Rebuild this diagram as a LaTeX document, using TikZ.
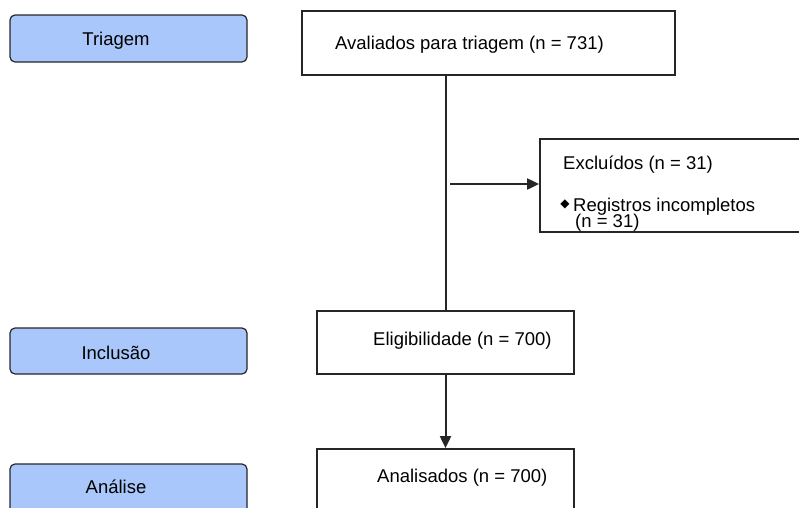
\documentclass[tikz,border=0pt]{standalone}
\usepackage{fontspec}
\setmainfont{Liberation Sans}
\newfontfamily\symfont{DejaVu Sans}
\usetikzlibrary{arrows.meta}
\definecolor{phaseblue}{RGB}{169,199,251}

\begin{document}
\begin{tikzpicture}[
    x=1pt, y=-1pt,
    >={Triangle[length=12pt,width=11pt]},
    phase/.style = {rectangle, rounded corners=5pt, draw=black!85,
                    fill=phaseblue, line width=1.2pt,
                    minimum width=237pt, inner sep=0pt},
    flow/.style  = {rectangle, draw=black!85, line width=1.8pt,
                    inner sep=0pt},
    txt/.style   = {font=\fontsize{18.5}{18.5}\selectfont, inner sep=0pt},
    line/.style  = {draw=black!85, line width=2pt},
  ]
  \useasboundingbox (0,0) rectangle (799,507);
  \clip (0,0) rectangle (799,507);
  % phase boxes on the left
  \node[phase, minimum height=47pt] (ptriag) at (128.5,38.5) {};
  \node[phase, minimum height=46pt] (pincl)  at (128.5,351)  {};
  \node[phase, minimum height=80pt] (panal)  at (128.5,504)  {};
  \node[txt, anchor=base] (ttriag) at (116,45)  {Triagem};
  \node[txt, anchor=base] (tincl)  at (116,359) {Inclusão};
  \node[txt, anchor=base] (tanal)  at (116,493) {Análise};
  % flow boxes
  \node[flow, minimum width=373pt, minimum height=64pt]  (aval) at (488.5,43)   {};
  \node[flow, minimum width=320pt, minimum height=93pt]  (excl) at (700,185.5)  {};
  \node[flow, minimum width=257pt, minimum height=63pt]  (elig) at (445.5,342.5) {};
  \node[flow, minimum width=257pt, minimum height=111pt] (anal) at (445.5,504.5) {};
  % box texts
  \node[txt, anchor=base west] (taval) at (335,49)  {Avaliados para triagem (n = 731)};
  \node[txt, anchor=base west] (texcl) at (563,169) {Excluídos (n = 31)};
  \node[inner sep=0pt, font=\symfont\fontsize{12}{12}\selectfont] (bullet) at (565,204) {◆};
  \node[txt, anchor=base west] (treg)  at (573,211) {Registros incompletos};
  \node[txt, anchor=base west] (tregn) at (575,227) {(n = 31)};
  \node[txt, anchor=base west] (telig) at (373,345) {Eligibilidade (n = 700)};
  \node[txt, anchor=base west] (tanl)  at (377,482) {Analisados (n = 700)};
  % connectors
  \coordinate (branch) at (450,184);
  \draw[line] (aval.south -| elig.north) -- (elig.north);
  \draw[line,->] (branch) -- (branch -| excl.west);
  \draw[line,->] (elig) -- (anal);
\end{tikzpicture}
\end{document}
